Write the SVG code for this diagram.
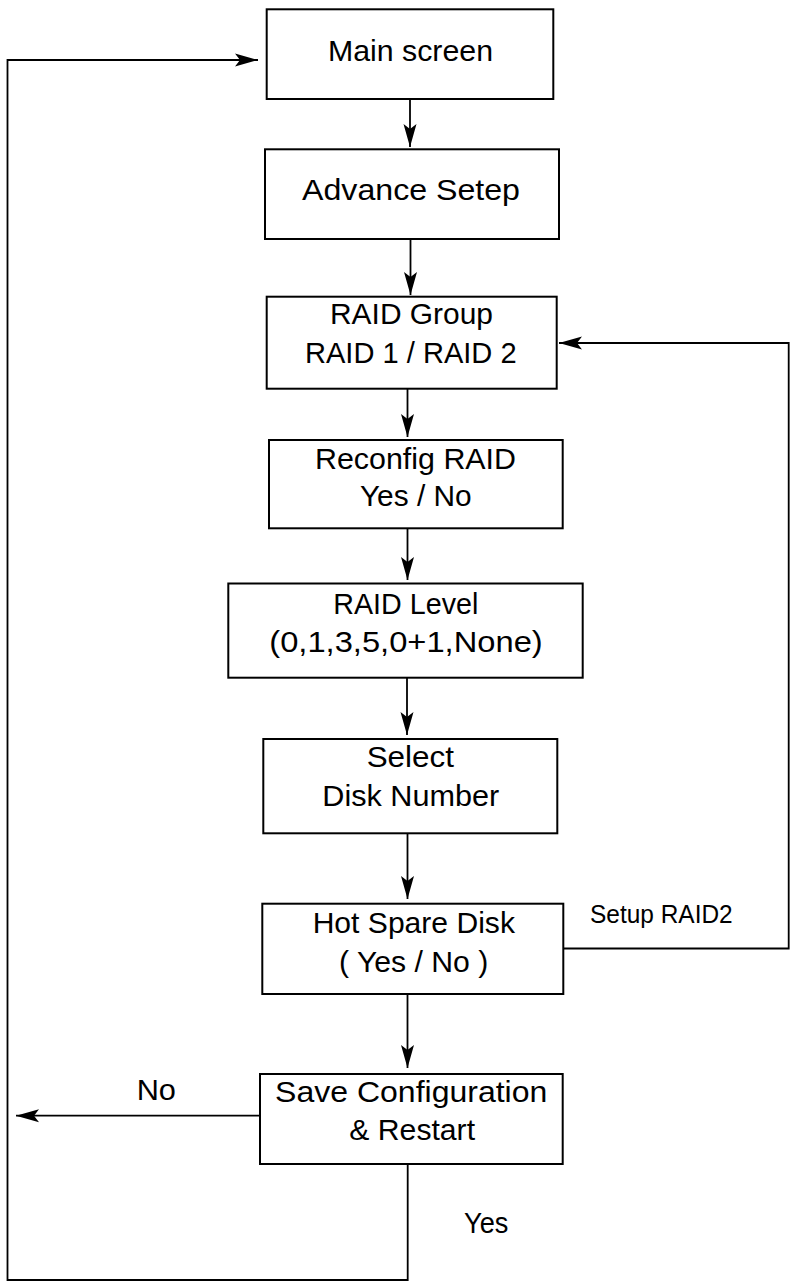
<svg xmlns="http://www.w3.org/2000/svg" width="794" height="1282" viewBox="0 0 794 1282">
<style>
.box{fill:#fff;stroke:#000;stroke-width:2}
.ln{fill:none;stroke:#000;stroke-width:1.8}
.t{font-family:"Liberation Sans",Arial,sans-serif;font-size:29px;fill:#000;text-anchor:middle}
.s{font-family:"Liberation Sans",Arial,sans-serif;font-size:25px;fill:#000}
</style>
<defs>
<marker id="ah" markerUnits="userSpaceOnUse" markerWidth="26" markerHeight="16" viewBox="-24 -8 26 16" refX="0" refY="0" orient="auto">
<path d="M0,0 L-23,-6.5 L-18,0 L-23,6.5 Z" fill="#000"/>
</marker>
</defs>
<rect width="794" height="1282" fill="#fff"/>
<g id="connectors">
<line class="ln" x1="410" y1="99" x2="410" y2="147" marker-end="url(#ah)"/>
<line class="ln" x1="410.5" y1="239" x2="410.5" y2="295" marker-end="url(#ah)"/>
<line class="ln" x1="407.5" y1="389" x2="407.5" y2="437" marker-end="url(#ah)"/>
<line class="ln" x1="407.5" y1="528" x2="407.5" y2="580" marker-end="url(#ah)"/>
<line class="ln" x1="407" y1="678" x2="407" y2="735" marker-end="url(#ah)"/>
<line class="ln" x1="407.5" y1="833" x2="407.5" y2="899" marker-end="url(#ah)"/>
<line class="ln" x1="407.5" y1="994" x2="407.5" y2="1068" marker-end="url(#ah)"/>
<polyline class="ln" points="563,948.5 788.7,948.5 788.7,343 559,343" marker-end="url(#ah)"/>
<polyline class="ln" points="407.7,1164 407.7,1280 7.5,1280 7.5,60 258,60" marker-end="url(#ah)"/>
<line class="ln" x1="260" y1="1115.7" x2="16" y2="1115.7" marker-end="url(#ah)"/>
</g>
<g id="main-screen">
<rect class="box" x="266.7" y="9.3" width="286.6" height="89.7"/>
<text class="t" x="410.5" y="61" textLength="165" lengthAdjust="spacingAndGlyphs">Main screen</text>
</g>
<g id="advance-setep">
<rect class="box" x="265" y="149.3" width="294" height="89.7"/>
<text class="t" x="411" y="200" textLength="218" lengthAdjust="spacingAndGlyphs">Advance Setep</text>
</g>
<g id="raid-group">
<rect class="box" x="266.7" y="296.7" width="290" height="92"/>
<text class="t" x="411.5" y="324.3" textLength="163" lengthAdjust="spacingAndGlyphs">RAID Group</text>
<text class="t" x="410.8" y="363.3" textLength="211.7" lengthAdjust="spacingAndGlyphs">RAID 1 / RAID 2</text>
</g>
<g id="reconfig-raid">
<rect class="box" x="269" y="440" width="293.7" height="88.3"/>
<text class="t" x="415.5" y="469.3" textLength="201" lengthAdjust="spacingAndGlyphs">Reconfig RAID</text>
<text class="t" x="415.8" y="506" textLength="111.7" lengthAdjust="spacingAndGlyphs">Yes / No</text>
</g>
<g id="raid-level">
<rect class="box" x="228.3" y="583.5" width="354.4" height="94.2"/>
<text class="t" x="405.8" y="614.3" textLength="145" lengthAdjust="spacingAndGlyphs">RAID Level</text>
<text class="t" x="406" y="651.5" textLength="273.4" lengthAdjust="spacingAndGlyphs">(0,1,3,5,0+1,None)</text>
</g>
<g id="select-disk-number">
<rect class="box" x="263.3" y="739" width="294" height="94.3"/>
<text class="t" x="410.3" y="766.7" textLength="87.3" lengthAdjust="spacingAndGlyphs">Select</text>
<text class="t" x="410.8" y="806" textLength="177" lengthAdjust="spacingAndGlyphs">Disk Number</text>
</g>
<g id="hot-spare-disk">
<rect class="box" x="262.3" y="903.7" width="301" height="90.3"/>
<text class="t" x="413.8" y="933.3" textLength="202.3" lengthAdjust="spacingAndGlyphs">Hot Spare Disk</text>
<text class="t" x="413.7" y="971.5" textLength="149.3" lengthAdjust="spacingAndGlyphs">( Yes / No )</text>
</g>
<g id="save-configuration">
<rect class="box" x="260" y="1074" width="302.7" height="90"/>
<text class="t" x="411.2" y="1101.7" textLength="272.3" lengthAdjust="spacingAndGlyphs">Save Configuration</text>
<text class="t" x="412.2" y="1140" textLength="125.7" lengthAdjust="spacingAndGlyphs">&amp; Restart</text>
</g>
<g id="labels">
<text class="s" x="590" y="923.3" textLength="142.7" lengthAdjust="spacingAndGlyphs">Setup RAID2</text>
<text class="t" x="156.3" y="1100" textLength="39.3" lengthAdjust="spacingAndGlyphs">No</text>
<text class="t" x="486.2" y="1233.3" textLength="44.3" lengthAdjust="spacingAndGlyphs">Yes</text>
</g>
</svg>
